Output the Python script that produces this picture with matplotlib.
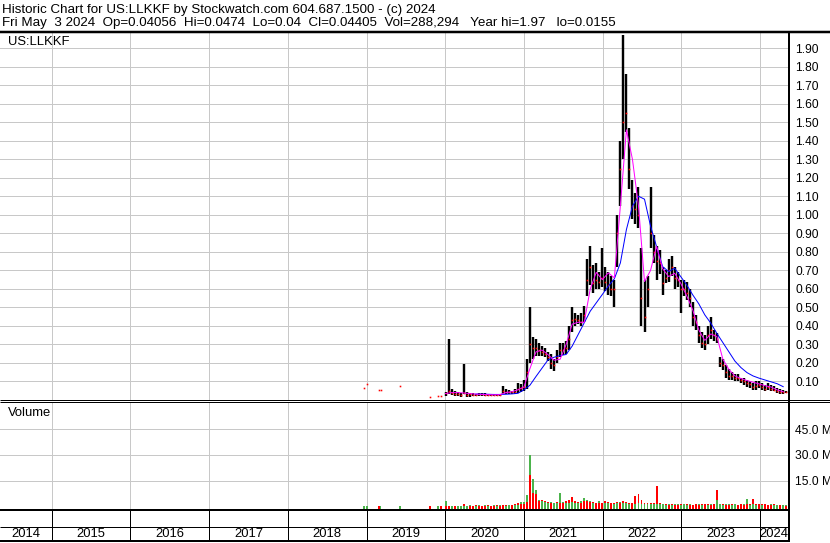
import matplotlib
matplotlib.use("Agg")
import matplotlib.pyplot as plt
import matplotlib.dates as mdates
from matplotlib.lines import Line2D
from matplotlib.ticker import FixedLocator, FormatStrFormatter
import numpy as np
import pandas as pd

plt.rcParams["font.family"] = ["Liberation Sans", "DejaVu Sans"]

# ---------------------------------------------------------------------------
# Data (prices in USD, volume in millions)
# ---------------------------------------------------------------------------

HEADER_1 = "Historic Chart for US:LLKKF by Stockwatch.com 604.687.1500 - (c) 2024"
HEADER_2 = ("Fri May  3 2024  Op=0.04056  Hi=0.0474  Lo=0.04  Cl=0.04405  "
            "Vol=288,294   Year hi=1.97   lo=0.0155")
SYMBOL = "US:LLKKF"

# sparse trades before 2020 (single prints)
EARLY_DATES = ["2018-12-20", "2019-01-02", "2019-03-02", "2019-03-07",
               "2019-06-06", "2019-10-22", "2019-11-27", "2019-12-15"]
EARLY_CLOSE = [0.066, 0.089, 0.055, 0.055, 0.077, 0.017, 0.023, 0.023]
EARLY_VOL_UP = [0.4, 0.0, 0.0, 0.0, 0.4, 0.0, 0.0, 0.0]
EARLY_VOL_DOWN = [0.0, 0.0, 0.4, 0.0, 0.0, 0.4, 0.0, 0.4]

# two-week bars from 2020-01-03 to 2024-05-03
BAR_START = "2020-01-03"
HIGH = [
    0.045, 0.330, 0.060, 0.050, 0.045, 0.040, 0.195, 0.045, 0.040, 0.038,
    0.035, 0.040, 0.038, 0.036, 0.035, 0.034, 0.033, 0.034, 0.035, 0.075,
    0.060, 0.055, 0.050, 0.060, 0.090, 0.085, 0.110, 0.220, 0.505, 0.340,
    0.330, 0.310, 0.290, 0.280, 0.260, 0.250, 0.220, 0.270, 0.310, 0.310,
    0.320, 0.400, 0.500, 0.470, 0.460, 0.470, 0.510, 0.760, 0.830, 0.730,
    0.740, 0.690, 0.820, 0.720, 0.690, 0.670, 0.650, 1.000, 1.400, 1.970,
    1.760, 1.470, 1.190, 1.120, 1.150, 0.820, 0.650, 0.670, 1.150, 0.890,
    0.830, 0.810, 0.720, 0.700, 0.760, 0.780, 0.720, 0.690, 0.650, 0.650,
    0.640, 0.600, 0.530, 0.460, 0.400, 0.370, 0.350, 0.400, 0.450, 0.380,
    0.360, 0.230, 0.220, 0.190, 0.170, 0.150, 0.140, 0.140, 0.120, 0.120,
    0.110, 0.100, 0.090, 0.100, 0.100, 0.090, 0.082, 0.090, 0.082, 0.073,
    0.065, 0.060, 0.055, 0.0474,
]
LOW = [
    0.020, 0.035, 0.025, 0.020, 0.020, 0.015, 0.030, 0.015, 0.018, 0.020,
    0.020, 0.022, 0.022, 0.022, 0.020, 0.020, 0.020, 0.020, 0.020, 0.030,
    0.035, 0.035, 0.035, 0.035, 0.040, 0.045, 0.050, 0.060, 0.200, 0.220,
    0.240, 0.240, 0.240, 0.230, 0.210, 0.170, 0.155, 0.200, 0.230, 0.245,
    0.250, 0.270, 0.370, 0.400, 0.410, 0.400, 0.420, 0.560, 0.620, 0.580,
    0.600, 0.600, 0.610, 0.590, 0.570, 0.560, 0.500, 0.720, 1.050, 1.300,
    1.450, 1.140, 0.980, 0.950, 0.930, 0.400, 0.370, 0.500, 0.820, 0.740,
    0.650, 0.680, 0.570, 0.630, 0.640, 0.670, 0.600, 0.610, 0.470, 0.560,
    0.540, 0.500, 0.400, 0.380, 0.310, 0.280, 0.270, 0.300, 0.330, 0.320,
    0.310, 0.180, 0.160, 0.120, 0.110, 0.110, 0.100, 0.100, 0.090, 0.082,
    0.070, 0.064, 0.055, 0.055, 0.064, 0.055, 0.046, 0.055, 0.050, 0.046,
    0.040, 0.035, 0.035, 0.040,
]
CLOSE = [
    0.040, 0.050, 0.040, 0.030, 0.030, 0.025, 0.040, 0.025, 0.030, 0.028,
    0.028, 0.030, 0.030, 0.028, 0.027, 0.027, 0.026, 0.027, 0.028, 0.050,
    0.045, 0.045, 0.042, 0.045, 0.060, 0.065, 0.070, 0.150, 0.300, 0.280,
    0.280, 0.270, 0.260, 0.250, 0.230, 0.200, 0.190, 0.230, 0.270, 0.270,
    0.280, 0.330, 0.430, 0.440, 0.430, 0.420, 0.460, 0.650, 0.720, 0.630,
    0.650, 0.640, 0.660, 0.640, 0.620, 0.600, 0.600, 0.900, 1.250, 1.500,
    1.550, 1.250, 1.050, 1.030, 1.000, 0.550, 0.450, 0.600, 0.900, 0.800,
    0.750, 0.740, 0.630, 0.660, 0.700, 0.720, 0.660, 0.650, 0.600, 0.600,
    0.580, 0.550, 0.450, 0.420, 0.350, 0.310, 0.300, 0.350, 0.380, 0.350,
    0.330, 0.200, 0.190, 0.150, 0.130, 0.130, 0.120, 0.120, 0.110, 0.100,
    0.090, 0.085, 0.070, 0.075, 0.080, 0.070, 0.060, 0.070, 0.060, 0.055,
    0.050, 0.045, 0.045, 0.04405,
]
VOL_UP = [
    3.2, 0.5, 0.3, 0.4, 0.3, 0.3, 0.4, 0.3, 0.6, 0.5,
    0.4, 0.7, 0.5, 0.6, 0.4, 0.5, 0.6, 0.5, 0.8, 0.9,
    0.5, 0.6, 0.9, 0.6, 0.8, 2.3, 2.5, 6.6, 30.0, 15.8,
    9.5, 4.0, 3.0, 2.5, 2.0, 2.5, 1.8, 2.0, 8.0, 2.5,
    2.0, 2.0, 2.5, 2.0, 2.0, 3.0, 4.8, 4.0, 3.0, 2.0,
    2.0, 3.0, 2.0, 2.0, 2.0, 2.0, 1.5, 2.0, 2.5, 2.0,
    2.0, 1.5, 2.0, 1.5, 2.0, 1.5, 1.5, 1.5, 1.5, 1.2,
    1.5, 1.5, 1.2, 1.0, 1.2, 1.0, 1.5, 1.2, 1.0, 1.2,
    1.0, 1.2, 1.0, 1.5, 1.2, 1.0, 1.2, 1.0, 1.2, 1.5,
    4.0, 1.2, 1.0, 1.2, 1.5, 1.0, 1.2, 1.0, 1.5, 1.2,
    4.1, 1.0, 1.2, 1.0, 1.2, 1.0, 1.2, 1.0, 1.2, 1.0,
    0.8, 1.0, 0.8, 0.6,
]
VOL_DOWN = [
    0.4, 0.4, 0.5, 0.3, 0.5, 0.4, 1.4, 0.5, 0.4, 0.3,
    0.6, 0.5, 0.4, 0.5, 0.7, 0.4, 0.5, 0.6, 0.5, 0.6,
    0.7, 0.8, 0.6, 1.2, 2.0, 1.4, 1.5, 2.5, 18.3, 7.6,
    7.0, 3.0, 3.5, 3.0, 2.5, 2.0, 2.2, 2.5, 2.0, 2.0,
    3.0, 4.0, 5.7, 3.0, 2.5, 2.0, 3.0, 3.0, 2.5, 2.5,
    2.0, 2.0, 2.0, 3.0, 2.5, 2.0, 2.0, 2.5, 2.0, 3.0,
    2.5, 2.0, 2.0, 5.9, 7.1, 3.7, 2.0, 2.0, 2.0, 2.0,
    11.9, 2.0, 1.5, 1.2, 1.0, 1.2, 1.0, 1.0, 1.2, 1.5,
    1.2, 1.0, 1.0, 1.2, 1.0, 1.5, 1.2, 1.5, 1.0, 1.2,
    9.6, 1.5, 1.2, 1.0, 1.0, 1.2, 1.5, 1.0, 1.2, 1.0,
    1.2, 1.2, 4.1, 1.5, 1.2, 1.5, 1.2, 1.0, 1.0, 1.2,
    1.0, 0.8, 1.0, 0.5,
]

# moving averages, every four weeks from 2020-01-03
MA_SHORT = [
    0.035, 0.040, 0.040, 0.038, 0.035, 0.032, 0.030, 0.029, 0.028, 0.029,
    0.040, 0.045, 0.055, 0.070, 0.170, 0.260, 0.270, 0.245, 0.215, 0.220,
    0.300, 0.410, 0.420, 0.420, 0.600, 0.690, 0.650, 0.687, 0.660, 1.050,
    1.460, 1.300, 1.050, 0.640, 0.700, 0.830, 0.710, 0.667, 0.685, 0.631,
    0.563, 0.487, 0.379, 0.322, 0.357, 0.343, 0.220, 0.165, 0.130, 0.116,
    0.105, 0.096, 0.087, 0.077, 0.070, 0.055, 0.045,
]
MA_LONG = [
    np.nan, np.nan, np.nan, np.nan, np.nan, 0.032, 0.032, 0.031, 0.030, 0.030,
    0.031, 0.033, 0.036, 0.055, 0.080, 0.127, 0.172, 0.217, 0.231, 0.240,
    0.246, 0.291, 0.354, 0.417, 0.480, 0.525, 0.570, 0.615, 0.655, 0.741,
    0.921, 1.047, 1.101, 1.085, 0.940, 0.829, 0.721, 0.694, 0.712, 0.667,
    0.622, 0.568, 0.520, 0.460, 0.415, 0.360, 0.310, 0.260, 0.210, 0.175,
    0.148, 0.130, 0.118, 0.108, 0.098, 0.088, 0.072,
]

YEARS = list(range(2014, 2025))
PRICE_TICKS = [round(0.1 * k, 2) for k in range(1, 20)]
VOLUME_TICKS = [15.0, 30.0, 45.0]

# ---------------------------------------------------------------------------
# Layout (pixels of the 830 x 543 picture)
# ---------------------------------------------------------------------------

W, H, DPI = 830, 543, 100
PX = 72 / DPI            # one pixel in points
FS_TICK = 12 * PX        # axis numbers
FS_LABEL = 13 * PX       # panel labels, years
FS_HEAD = 13.4 * PX      # two header lines
GREEN = "#4cb34c"
GRID = "#c8c8c8"
X_START = pd.Timestamp("2014-05-05")
X_END = pd.Timestamp("2024-05-16")
PRICE_LIM = (0.0, 1.983)
VOLUME_LIM = (-1.2, 60.9)


def px_axes(fig, x0, y0, x1, y1):
    ax = fig.add_axes([x0 / W, 1 - y1 / H, (x1 - x0) / W, (y1 - y0) / H])
    for s in ax.spines.values():
        s.set_visible(False)
    ax.set_xlim(X_START, X_END)
    return ax


def frame_line(fig, xs, ys, lw):
    fig.add_artist(Line2D([x / W for x in xs], [1 - y / H for y in ys],
                          transform=fig.transFigure, color="black",
                          lw=lw * PX, solid_capstyle="butt"))


def style_panel(ax, ticks, fmt):
    ax.yaxis.set_major_locator(FixedLocator(ticks))
    ax.yaxis.set_major_formatter(FormatStrFormatter(fmt))
    ax.xaxis.set_major_locator(mdates.YearLocator())
    ax.yaxis.tick_right()
    ax.tick_params(axis="y", length=0, pad=6 * PX, labelsize=FS_TICK)
    ax.tick_params(axis="x", length=0, labelbottom=False)
    ax.grid(True, color=GRID, lw=PX)
    ax.set_axisbelow(True)


fig = plt.figure(figsize=(W / DPI, H / DPI), dpi=DPI)
fig.patch.set_facecolor("white")

dates = pd.to_datetime(EARLY_DATES).append(
    pd.date_range(BAR_START, periods=len(HIGH), freq="14D"))
ma_dates = pd.date_range(BAR_START, periods=len(MA_SHORT), freq="28D")
highs = np.array(EARLY_CLOSE + HIGH)
lows = np.array(EARLY_CLOSE + LOW)
closes = np.array(EARLY_CLOSE + CLOSE)
vol_up = np.array(EARLY_VOL_UP + VOL_UP)
vol_down = np.array(EARLY_VOL_DOWN + VOL_DOWN)

# --- price panel -----------------------------------------------------------
ax = px_axes(fig, 0, 33, 789, 400)
ax.set_ylim(*PRICE_LIM)
style_panel(ax, PRICE_TICKS, "%.2f")

ax.vlines(dates, lows, highs, color="black", lw=2.4 * PX)
ax.plot(dates, closes, ls="none", marker="s", ms=1.6 * PX, mew=0, color="red")
ax.plot(ma_dates, MA_LONG, color="#0000ff", lw=PX)
ax.plot(ma_dates, MA_SHORT, color="#ff00ff", lw=PX)
ax.text(8 / 789, 1 - 9 / 367, SYMBOL, transform=ax.transAxes,
        fontsize=FS_LABEL, va="center", ha="left")

# --- volume panel ----------------------------------------------------------
axv = px_axes(fig, 0, 402, 789, 508.5)
axv.set_ylim(*VOLUME_LIM)
style_panel(axv, VOLUME_TICKS, "%.1f M")

base = VOLUME_LIM[0]
up_wins = vol_up >= vol_down
tall = np.maximum(vol_up, vol_down)
short = np.minimum(vol_up, vol_down)
axv.bar(dates, tall - base, bottom=base, width=9, linewidth=0,
        color=np.where(up_wins, GREEN, "red"))
keep = short > 0
axv.bar(dates[keep], short[keep] - base, bottom=base, width=9, linewidth=0,
        color=np.where(up_wins, "red", GREEN)[keep])
axv.text(8 / 789, 1 - 10.5 / 106.5, "Volume", transform=axv.transAxes,
         fontsize=FS_LABEL, va="center", ha="left")

# --- year band -------------------------------------------------------------
axy = px_axes(fig, 0, 510, 789, 541)
axy.set_ylim(0, 1)
axy.set_xticks([])
axy.set_yticks([])
for yr in YEARS:
    start = max(pd.Timestamp(f"{yr}-01-01"), X_START)
    end = min(pd.Timestamp(f"{yr + 1}-01-01"), X_END)
    if yr > YEARS[0]:
        axy.axvline(pd.Timestamp(f"{yr}-01-01"), color="black", lw=PX)
    axy.text(start + (end - start) / 2, 7 / 31, str(yr), fontsize=FS_LABEL,
             ha="center", va="center")

# --- frame -----------------------------------------------------------------
frame_line(fig, (0, 830), (31.5, 31.5), 2.5)
frame_line(fig, (0, 830), (400, 400), 1)
frame_line(fig, (0, 830), (402, 402), 1)
frame_line(fig, (0, 789), (509.5, 509.5), 2)
frame_line(fig, (0, 789), (527, 527), 1)
frame_line(fig, (0, 789), (541, 541), 2)
frame_line(fig, (789, 789), (32, 542), 2)

fig.text(1.5 / W, 1 - 12.5 / H, HEADER_1, fontsize=FS_HEAD,
         va="baseline", ha="left")
fig.text(1.5 / W, 1 - 26 / H, HEADER_2, fontsize=FS_HEAD,
         va="baseline", ha="left")

fig.savefig("out.png", dpi=DPI, facecolor="white")
